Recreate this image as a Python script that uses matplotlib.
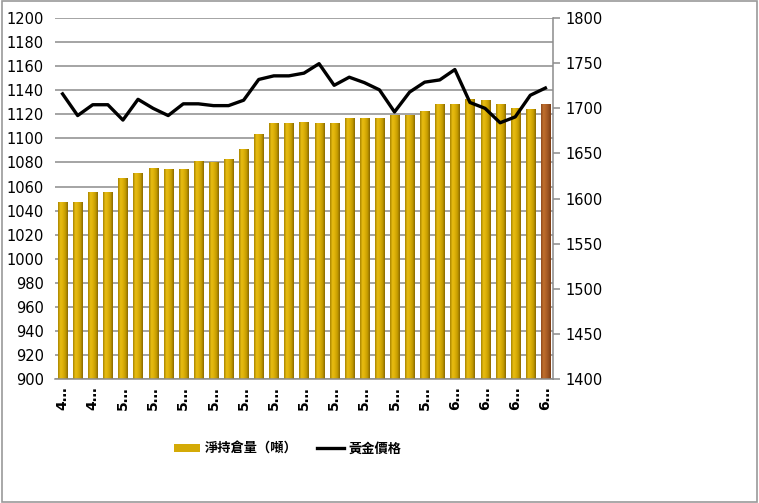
import matplotlib.pyplot as plt
import numpy as np
from matplotlib.colors import LinearSegmentedColormap
from matplotlib.lines import Line2D
from matplotlib.patches import Patch

plt.rcParams['font.family'] = ['DejaVu Sans', 'Noto Sans CJK TC']

# data
holdings = [1047.5, 1047.5, 1055.7, 1055.7, 1067.3, 1071.5, 1075.6, 1074.8, 1074.8,
            1081.4, 1080.6, 1083.1, 1091.4, 1103.8, 1112.9, 1112.9, 1113.4, 1112.6,
            1112.6, 1116.7, 1116.7, 1116.7, 1119.3, 1119.8, 1123.1, 1128.2, 1129.0,
            1133.0, 1132.0, 1128.2, 1125.6, 1124.8, 1129.0]
gold_price = [1716, 1692, 1704, 1704, 1687, 1710, 1700, 1692, 1705, 1705, 1703,
              1703, 1709, 1732, 1736, 1736, 1739, 1749.5, 1725.5, 1734.5, 1728.5,
              1720.5, 1696, 1718, 1729, 1731.5, 1743, 1706.5, 1700, 1684, 1690.5,
              1714.5, 1722.5]
tick_labels = ['4…', '4…', '5…', '5…', '5…', '5…', '5…', '5…', '5…', '5…', '5…',
               '5…', '5…', '6…', '6…', '6…', '6…']
bar_label = '淨持倉量（噸）'
line_label = '黃金價格'

x = np.arange(len(holdings))

fig = plt.figure(figsize=(7.59, 5.03), dpi=100)
fig.patches.append(plt.Rectangle((0.002, 0.002), 0.996, 0.996, transform=fig.transFigure,
                                 fill=False, edgecolor='#9a9a9a', linewidth=1.2))
ax = fig.add_axes([0.0725, 0.2465, 0.656, 0.7175])
ax2 = ax.twinx()

gold_cmap = LinearSegmentedColormap.from_list(
    'gold', ['#a88400', '#e8bd12', '#ddb008', '#c49c00', '#8a6a00'])
brown_cmap = LinearSegmentedColormap.from_list(
    'brown', ['#8f4a1c', '#c0702e', '#b06228', '#9a5220', '#7a3c14'])
grad = np.linspace(0, 1, 64).reshape(1, -1)

bars = ax.bar(x, np.array(holdings) - 900, bottom=900, width=0.6, color='none',
              edgecolor='none', zorder=2)
for i, b in enumerate(bars):
    cmap = brown_cmap if i == len(bars) - 1 else gold_cmap
    im = ax.imshow(grad, cmap=cmap, aspect='auto', zorder=2,
                   extent=[b.get_x(), b.get_x() + b.get_width(), 900, 900 + b.get_height()])
    im.set_clip_path(b)

ax.set_xlim(-0.5, len(holdings) - 0.5)
ax.set_ylim(900, 1200)
ax.set_yticks(np.arange(900, 1201, 20))
ax.yaxis.grid(True, color='#8c8c8c', linewidth=1.1, zorder=0)
ax.set_axisbelow(True)
ax.tick_params(axis='y', length=0, labelsize=10.5, pad=8)
ax.set_xticks(x[::2])
ax.set_xticklabels(tick_labels, rotation=90, fontsize=10, fontweight='bold')
ax.tick_params(axis='x', length=0, pad=5)
for s in ['left', 'top', 'right']:
    ax.spines[s].set_visible(False)
ax.spines['bottom'].set_color('#8c8c8c')
ax.spines['bottom'].set_linewidth(1.1)

ax2.plot(x, gold_price, color='black', linewidth=2.4, zorder=5)
ax2.set_ylim(1400, 1800)
ax2.set_yticks(np.arange(1400, 1801, 50))
ax2.tick_params(axis='y', length=5, color='#8c8c8c', width=1.1, labelsize=10.5, pad=4)
for s in ['left', 'top', 'bottom']:
    ax2.spines[s].set_visible(False)
ax2.spines['right'].set_color('#8c8c8c')
ax2.spines['right'].set_linewidth(1.1)

handles = [Patch(facecolor='#d4aa06', edgecolor='none'),
           Line2D([0], [0], color='black', linewidth=2.4)]
fig.legend(handles, [bar_label, line_label], loc='center', bbox_to_anchor=(0.379, 0.108),
           ncol=2, frameon=False, handlelength=2.0, handleheight=0.6, handletextpad=0.35,
           columnspacing=1.5,
           prop={'family': ['Noto Sans CJK TC', 'DejaVu Sans'], 'size': 9.5, 'weight': 'bold'})

fig.savefig('out.png', dpi=100)
